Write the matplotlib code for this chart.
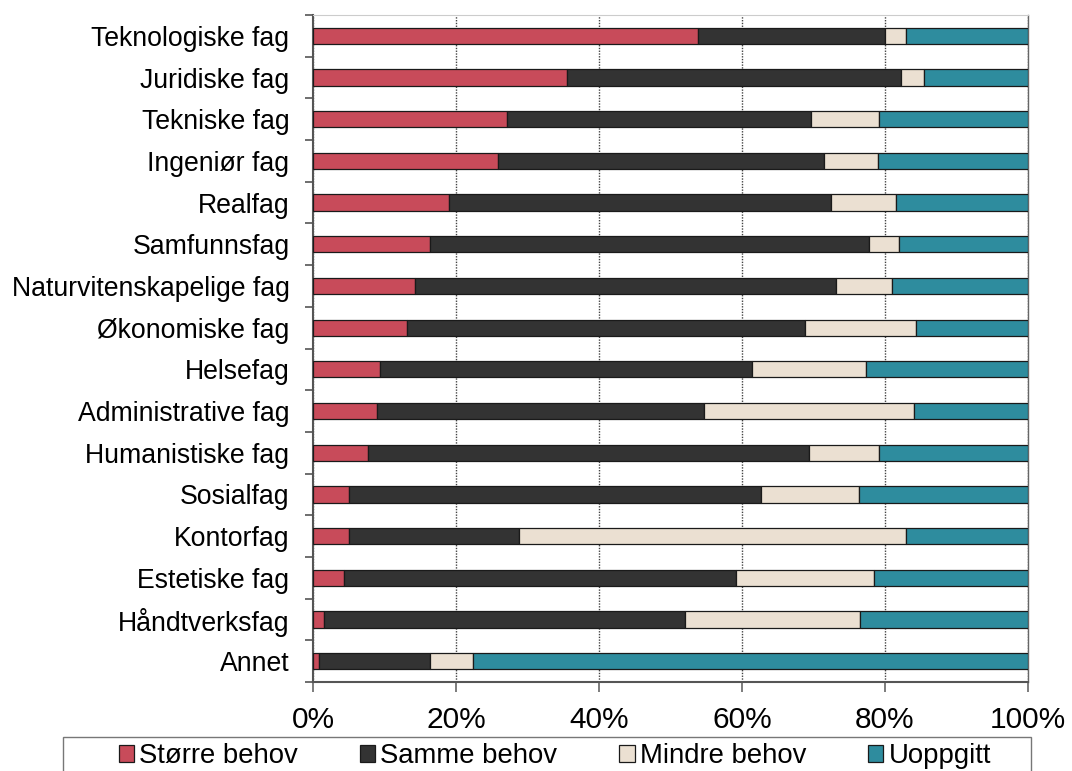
import numpy as np
import matplotlib
matplotlib.use("Agg")
import matplotlib.pyplot as plt
from matplotlib.patches import Rectangle
from matplotlib.ticker import FixedLocator, FuncFormatter

plt.rcParams['font.family'] = ['Liberation Sans', 'DejaVu Sans']

# fag, fra toppen og nedover
fag = ["Teknologiske fag", "Juridiske fag", "Tekniske fag", "Ingeniør fag",
       "Realfag", "Samfunnsfag", "Naturvitenskapelige fag", "Økonomiske fag",
       "Helsefag", "Administrative fag", "Humanistiske fag", "Sosialfag",
       "Kontorfag", "Estetiske fag", "Håndtverksfag", "Annet"]

# andeler i prosent
storre = [53.9, 35.5, 27.2, 25.9, 19.0, 16.3, 14.3, 13.2,
          9.4, 8.9, 7.7, 5.1, 5.1, 4.4, 1.5, 0.9]
samme = [26.1, 46.8, 42.5, 45.5, 53.4, 61.4, 58.8, 55.6,
         52.0, 45.8, 61.7, 57.5, 23.7, 54.7, 50.5, 15.5]
mindre = [3.0, 3.1, 9.5, 7.6, 9.1, 4.3, 7.9, 15.5,
          15.9, 29.4, 9.7, 13.8, 54.2, 19.4, 24.5, 6.0]
uoppgitt = [17.0, 14.6, 20.8, 21.0, 18.5, 18.0, 19.0, 15.7,
            22.7, 15.9, 20.9, 23.6, 17.0, 21.5, 23.5, 77.6]

serier = ["Større behov", "Samme behov", "Mindre behov", "Uoppgitt"]
farger = ["#C84B5A", "#333333", "#EBE0D2", "#2E8C9E"]

fig = plt.figure(figsize=(10.72, 7.71), dpi=100)
ax = fig.add_axes([313 / 1072, 1 - 682 / 771, 715 / 1072, 667 / 771])

y = np.arange(len(fag))[::-1]
venstre = np.zeros(len(fag))
for navn, verdier, farge in zip(serier, [storre, samme, mindre, uoppgitt], farger):
    verdier = np.array(verdier)
    ax.barh(y, verdier, left=venstre, height=0.39, color=farge,
            edgecolor="#1a1a1a", linewidth=0.9, label=navn, zorder=3)
    venstre += verdier

ax.set_xlim(0, 100)
ax.set_ylim(-0.5, len(fag) - 0.5)

ax.set_xticks([0, 20, 40, 60, 80, 100])
ax.xaxis.set_major_formatter(FuncFormatter(lambda v, p: f"{v:.0f}%"))
ax.tick_params(axis="x", direction="out", length=7, width=1.2, color="#666",
               labelsize=21.5, pad=10)

ax.set_yticks(y)
ax.set_yticklabels(fag)
ax.yaxis.set_minor_locator(FixedLocator(np.arange(-0.5, len(fag), 1.0)))
ax.tick_params(axis="y", which="major", length=0, labelsize=19.2, pad=17)
ax.tick_params(axis="y", which="minor", direction="out", length=6, width=1.2,
               color="#555")

ax.xaxis.grid(True, linestyle=(0, (1, 1)), color="#444", linewidth=1, zorder=0)
ax.set_axisbelow(True)

for side in ["left", "bottom"]:
    ax.spines[side].set_color("#555")
    ax.spines[side].set_linewidth(1.5)
ax.spines["top"].set_color("#cccccc")
ax.spines["right"].set_color("#666")
ax.spines["right"].set_linewidth(1.0)

# tegnforklaring med egen ramme som går ut av bildet nederst
ramme = Rectangle((63 / 1072, 1 - 790 / 771), 968 / 1072, 53 / 771,
                  transform=fig.transFigure, facecolor="white",
                  edgecolor="#777", linewidth=1.0)
fig.patches.append(ramme)
leg = fig.legend(loc="center", ncol=4, bbox_to_anchor=(555 / 1072, 1 - 756 / 771),
                 fontsize=19.8, frameon=False, handlelength=0.55,
                 handleheight=0.55, handletextpad=0.2, columnspacing=2.25,
                 borderaxespad=0, borderpad=0)

fig.savefig("out.png", dpi=100)
